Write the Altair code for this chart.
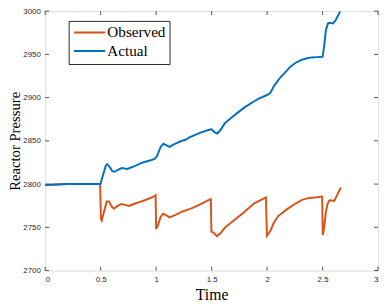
import altair as alt
import pandas as pd

# Observed series (time, pressure)
obs_t = [0.0, 0.1, 0.2, 0.3, 0.4, 0.495, 0.502, 0.51, 0.53, 0.555, 0.575, 0.6, 0.62, 0.65, 0.685,
         0.72, 0.755, 0.8, 0.855, 0.92, 0.97, 0.995, 1.0, 1.015, 1.04, 1.062, 1.09, 1.12, 1.17,
         1.238, 1.3, 1.355, 1.42, 1.47, 1.493, 1.498, 1.52, 1.547, 1.58, 1.62, 1.7, 1.8, 1.884,
         1.95, 1.99, 1.998, 2.03, 2.06, 2.1, 2.18, 2.25, 2.31, 2.36, 2.4, 2.45, 2.496, 2.502,
         2.515, 2.53, 2.545, 2.56, 2.575, 2.605, 2.63, 2.665]
obs_p = [2799, 2799.5, 2800, 2800, 2800, 2800, 2760, 2758, 2768, 2780, 2780, 2774, 2771.5, 2774.5, 2777,
         2776, 2774.7, 2777, 2779.5, 2782.5, 2785, 2787, 2748, 2752, 2762, 2765.7, 2764, 2761.5, 2764,
         2768.3, 2771, 2774, 2778, 2781.5, 2782.5, 2745, 2743.5, 2739.8, 2743, 2749.7, 2758, 2768.3, 2777.7,
         2782, 2784.5, 2740.3, 2746, 2755, 2763, 2771, 2777, 2781.4, 2783.5, 2784.2, 2784.7, 2785.5, 2741,
         2750, 2768, 2777, 2781, 2781.4, 2780.6, 2787, 2796]

# Actual series (time, pressure)
act_t = [0.0, 0.1, 0.2, 0.3, 0.4, 0.498, 0.52, 0.545, 0.558, 0.58, 0.605, 0.625, 0.655, 0.69,
         0.74, 0.8, 0.88, 0.95, 0.99, 1.01, 1.04, 1.065, 1.09, 1.12, 1.16, 1.22, 1.27, 1.3, 1.4,
         1.47, 1.5, 1.525, 1.55, 1.58, 1.62, 1.7, 1.767, 1.8, 1.88, 1.93, 2.0, 2.03, 2.06, 2.12,
         2.15, 2.208, 2.26, 2.31, 2.36, 2.4, 2.45, 2.5, 2.515, 2.53, 2.55, 2.57, 2.595, 2.62, 2.66]
act_p = [2799, 2799.5, 2800, 2800, 2800, 2800, 2810, 2821, 2823, 2820, 2815, 2814.2, 2816.5, 2818.5,
         2817.5, 2820.5, 2825, 2827.5, 2829.5, 2833, 2843, 2846.6, 2845, 2843, 2846, 2849.5, 2851.5, 2854, 2859.5,
         2862.5, 2863.4, 2860, 2858.5, 2862.5, 2870.5, 2879, 2885.8, 2889, 2895.5, 2899, 2903, 2905.5, 2913, 2923.5,
         2927.5, 2935.5, 2940.5, 2943.7, 2945.5, 2946.5, 2946.8, 2947.2, 2960, 2978, 2986, 2986.4, 2985.8, 2990, 3000]

series_names = ["Observed", "Actual"]
series_colors = ["#D95319", "#0072BD"]
x_ticks = [0, 0.5, 1, 1.5, 2, 2.5, 3]
y_ticks = [2700, 2750, 2800, 2850, 2900, 2950, 3000]

W, H = 340, 265
AX = "#262626"

df_obs = pd.DataFrame({"t": obs_t, "p": obs_p, "series": "Observed"})
df_act = pd.DataFrame({"t": act_t, "p": act_p, "series": "Actual"})
df_xt = pd.DataFrame({"v": x_ticks})
df_yt = pd.DataFrame({"v": y_ticks})

xscale = alt.Scale(domain=[0, 3], nice=False, zero=False)
yscale = alt.Scale(domain=[2700, 3000], nice=False, zero=False)

x_enc = alt.X("t:Q", scale=xscale, title="Time",
              axis=alt.Axis(values=x_ticks, format="~g", grid=False, domain=False, ticks=False,
                            labelFont="Liberation Sans", labelFontSize=8, labelColor=AX,
                            labelPadding=5, titleFont="Liberation Serif", titleFontSize=16,
                            titleFontWeight="normal", titleColor="black", titlePadding=4))
y_enc = alt.Y("p:Q", scale=yscale, title="Reactor Pressure",
              axis=alt.Axis(values=y_ticks, format="d", grid=False, domain=False, ticks=False,
                            labelFont="Liberation Sans", labelFontSize=8, labelColor=AX,
                            labelPadding=5, titleFont="Liberation Serif", titleFontSize=15,
                            titleFontWeight="normal", titleColor="black", titlePadding=0))

color = alt.Color("series:N", scale=alt.Scale(domain=series_names, range=series_colors),
                  legend=alt.Legend(title=None, orient="none", legendX=24, legendY=10,
                                    symbolType="M-1.2,0H4.8", symbolSize=114, symbolStrokeWidth=2,
                                    labelFont="Liberation Serif", labelFontSize=15.5, labelColor="black",
                                    strokeColor=AX, fillColor="white", padding=4, rowPadding=2,
                                    labelOffset=20))

obs = alt.Chart(df_obs).mark_line(strokeWidth=2).encode(x=x_enc, y=y_enc, color=color)
act = alt.Chart(df_act).mark_line(strokeWidth=2, clip=True).encode(x=x_enc, y=y_enc, color=color)

tick_b = alt.Chart(df_xt).mark_rule(color=AX, strokeWidth=0.8).encode(
    x=alt.X("v:Q", scale=xscale), y=alt.value(H), y2=alt.value(H - 4))
tick_t = alt.Chart(df_xt).mark_rule(color=AX, strokeWidth=0.8).encode(
    x=alt.X("v:Q", scale=xscale), y=alt.value(0), y2=alt.value(4))
tick_l = alt.Chart(df_yt).mark_rule(color=AX, strokeWidth=0.8).encode(
    y=alt.Y("v:Q", scale=yscale), x=alt.value(0), x2=alt.value(4))
tick_r = alt.Chart(df_yt).mark_rule(color=AX, strokeWidth=0.8).encode(
    y=alt.Y("v:Q", scale=yscale), x=alt.value(W - 4), x2=alt.value(W))

chart = alt.layer(tick_b, tick_t, tick_l, tick_r, obs, act).properties(
    width=W, height=H,
    autosize=alt.AutoSizeParams(type="none"),
    padding={"left": 38, "top": 0, "right": 2, "bottom": 33},
).configure_view(stroke=AX, strokeWidth=1).configure(background="white")

chart.save("out.html", embed_options={"renderer": "svg", "actions": False})
